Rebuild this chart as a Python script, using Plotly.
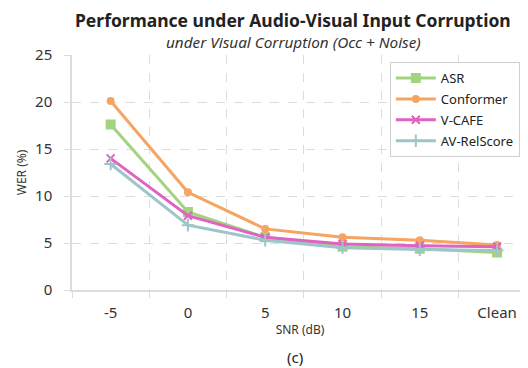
import plotly.graph_objects as go

snr_labels = ["-5", "0", "5", "10", "15", "Clean"]
asr = [17.6, 8.3, 5.6, 4.6, 4.4, 4.0]
conformer = [20.1, 10.4, 6.5, 5.6, 5.3, 4.8]
vcafe = [14.0, 7.9, 5.6, 4.9, 4.7, 4.6]
avrelscore = [13.4, 6.9, 5.3, 4.5, 4.3, 4.2]

series = [
    ("ASR", asr, "#a3d37f", "square", 8),
    ("Conformer", conformer, "#f5a462", "circle", 6),
    ("V-CAFE", vcafe, "#e062c2", "x-thin", 8),
    ("AV-RelScore", avrelscore, "#9ec4cc", "cross-thin", 9),
]

FONT = "Noto Sans"
fig = go.Figure()
for name, vals, col, sym, sz in series:
    fig.add_trace(go.Scatter(
        x=snr_labels, y=vals, name=name, mode="lines+markers", legendgroup=name,
        line=dict(color=col, width=3),
        marker=dict(symbol=sym, size=sz, color=col, line=dict(color=col, width=2)),
    ))

grid = "#dcdcdc"
fig.update_layout(
    width=520, height=360,
    margin=dict(l=64, r=0, t=47, b=78, autoexpand=False),
    paper_bgcolor="white", plot_bgcolor="white",
    font=dict(family=FONT, color="#333333", size=14),
    showlegend=True,
    legend=dict(x=0.697, y=0.97, xanchor="left", yanchor="top",
                bgcolor="white", bordercolor="#d0d0d0", borderwidth=1,
                font=dict(size=13, color="#222222"), tracegroupgap=1,
                itemwidth=40),
    xaxis=dict(type="category", range=[-0.5, 5.4],
               showgrid=True, gridcolor=grid, griddash="dash", gridwidth=1,
               tickson="boundaries", ticks="outside", ticklen=6, tickcolor=grid,
               showline=True, linecolor=grid, linewidth=1.5,
               tickfont=dict(size=15), ticklabelstandoff=8,
               title=dict(text="SNR (dB)", font=dict(size=12), standoff=5)),
    yaxis=dict(range=[0, 25], dtick=5, showgrid=True, gridcolor=grid, griddash="dash",
               gridwidth=1, showline=True, linecolor=grid, linewidth=1.5,
               ticks="outside", ticklen=6, tickcolor=grid, tickfont=dict(size=15),
               ticklabelstandoff=9, zeroline=False,
               title=dict(text="WER (%)", font=dict(size=12), standoff=6)),
    annotations=[
        dict(text="<b>Performance under Audio-Visual Input Corruption</b>", xref="paper", yref="paper",
             x=0.485, y=1.0, yshift=35, showarrow=False, font=dict(size=17.5, color="#222222"),
             xanchor="center", yanchor="middle"),
        dict(text="<i>under Visual Corruption (Occ + Noise)</i>", xref="paper", yref="paper",
             x=0.485, y=1.0, yshift=13, showarrow=False, font=dict(size=15.3, color="#333333"),
             xanchor="center", yanchor="middle"),
        dict(text="(c)", xref="paper", yref="paper", x=0.49, y=0, yshift=-67,
             showarrow=False, font=dict(size=15, color="#222222"), xanchor="center", yanchor="middle"),
    ],
)

fig.write_html("out.html")
